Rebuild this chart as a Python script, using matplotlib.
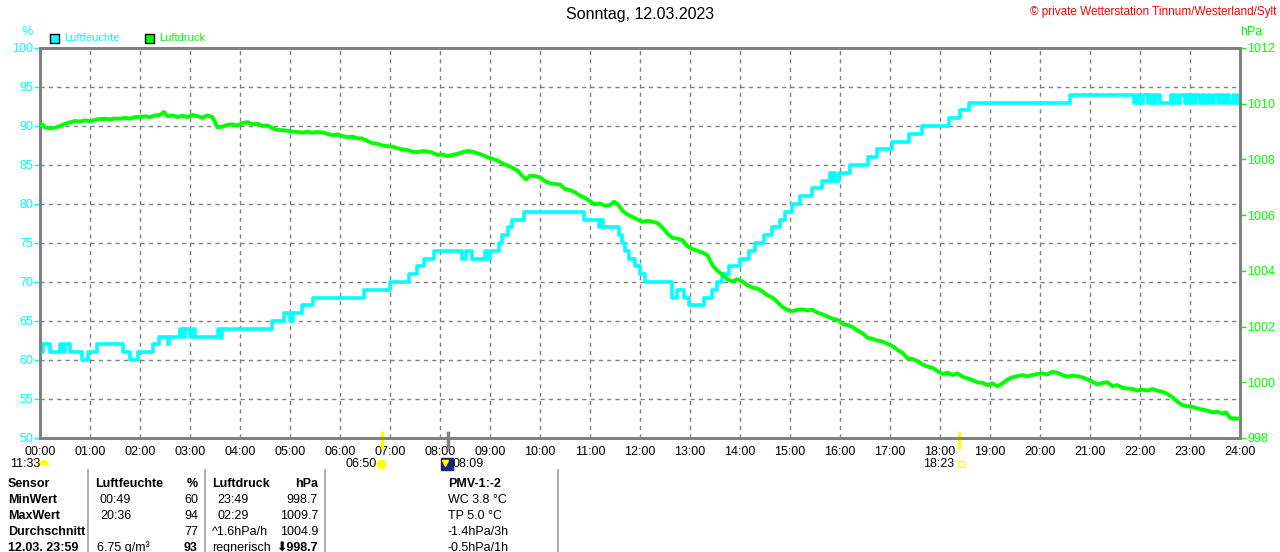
import matplotlib
matplotlib.use("Agg")
import matplotlib.pyplot as plt
import matplotlib.transforms as mtransforms
from matplotlib.patches import Rectangle

plt.rcParams['font.family'] = ['Liberation Sans', 'DejaVu Sans']

# === Daten: Luftfeuchte (Stufen, Stunde -> %) ===
hum_t = [0.00, 0.05, 0.19, 0.39, 0.45, 0.50, 0.59, 0.83, 0.96, 1.13, 1.66, 1.80, 1.96, 2.26, 2.37,
         2.55, 2.58, 2.79, 2.85, 2.90, 3.00, 3.05, 3.10, 3.55, 3.60, 3.64, 4.64, 4.87, 5.00, 5.05,
         5.23, 5.45, 6.47, 7.00, 7.37, 7.53, 7.68, 7.88, 8.43, 8.53, 8.64, 8.90, 8.95, 9.00, 9.17,
         9.23, 9.35, 9.43, 9.67, 10.87, 11.17, 11.20, 11.25, 11.57, 11.63, 11.70, 11.78, 11.90, 12.00,
         12.10, 12.63, 12.73, 12.87, 12.97, 13.27, 13.43, 13.53, 13.63, 13.77, 14.00, 14.17, 14.30,
         14.47, 14.63, 14.80, 14.90, 15.03, 15.20, 15.43, 15.63, 15.80, 15.83, 15.88, 15.90, 15.97,
         16.20, 16.55, 16.73, 17.03, 17.37, 17.63, 18.17, 18.39, 18.57, 20.60, 21.87, 21.93, 21.97,
         22.05, 22.15, 22.18, 22.22, 22.25, 22.28, 22.32, 22.40, 22.62, 22.66, 22.70, 22.74, 22.80,
         22.90, 22.94, 22.98, 23.02, 23.08, 23.12, 23.20, 23.25, 23.30, 23.35, 23.42, 23.48, 23.55,
         23.60, 23.65, 23.72, 23.78, 23.85, 23.90, 23.95, 24.00]
hum_v = [61, 62, 61, 62, 61, 62, 61, 60, 61, 62, 61, 60, 61, 62, 63,
         62, 63, 64, 63, 64, 63, 64, 63, 64, 63, 64, 65, 66, 65, 66,
         67, 68, 69, 70, 71, 72, 73, 74, 73, 74, 73, 74, 73, 74, 75,
         76, 77, 78, 79, 78, 77, 78, 77, 76, 75, 74, 73, 72, 71,
         70, 68, 69, 68, 67, 68, 69, 70, 71, 72, 73, 74, 75,
         76, 77, 78, 79, 80, 81, 82, 83, 84, 83, 84, 83, 84,
         85, 86, 87, 88, 89, 90, 91, 92, 93, 94, 93, 94, 93,
         94, 93, 94, 93, 94, 93, 94, 93, 94, 93, 94, 93, 94,
         93, 94, 93, 94, 93, 94, 93, 94, 93, 94, 93, 94, 93,
         94, 93, 94, 93, 94, 93, 94, 93]

# === Daten: Luftdruck (Stunde -> hPa) ===
prs_t = [0.00, 0.05, 0.10, 0.20, 0.30, 0.40, 0.50, 0.60, 0.70, 0.80, 0.90, 1.00, 1.10, 1.20, 1.30,
         1.40, 1.50, 1.60, 1.70, 1.80, 1.90, 2.00, 2.10, 2.20, 2.30, 2.40, 2.48, 2.55, 2.65, 2.75,
         2.85, 2.95, 3.05, 3.15, 3.25, 3.35, 3.45, 3.55, 3.65, 3.75, 3.85, 3.95, 4.05, 4.15, 4.25,
         4.35, 4.45, 4.55, 4.65, 4.75, 4.85, 4.95, 5.05, 5.15, 5.25, 5.35, 5.45, 5.55, 5.65, 5.75,
         5.85, 5.95, 6.05, 6.15, 6.25, 6.35, 6.45, 6.55, 6.65, 6.75, 6.85, 6.95, 7.05, 7.15, 7.25,
         7.35, 7.45, 7.55, 7.65, 7.75, 7.85, 7.95, 8.05, 8.15, 8.25, 8.35, 8.45, 8.55, 8.65, 8.75,
         8.85, 8.95, 9.05, 9.15, 9.25, 9.35, 9.45, 9.55, 9.65, 9.72, 9.80, 9.90, 10.00, 10.10, 10.20,
         10.30, 10.40, 10.50, 10.60, 10.70, 10.80, 10.90, 11.00, 11.10, 11.20, 11.30, 11.40, 11.48,
         11.55, 11.65, 11.75, 11.85, 11.95, 12.05, 12.15, 12.25, 12.35, 12.45, 12.55, 12.65, 12.75,
         12.85, 12.95, 13.05, 13.15, 13.25, 13.35, 13.45, 13.55, 13.65, 13.75, 13.85, 13.95, 14.05,
         14.15, 14.25, 14.35, 14.45, 14.55, 14.65, 14.75, 14.85, 14.95, 15.05, 15.15, 15.25, 15.35,
         15.45, 15.55, 15.65, 15.75, 15.85, 15.95, 16.05, 16.15, 16.25, 16.35, 16.45, 16.55, 16.65,
         16.75, 16.85, 16.95, 17.05, 17.15, 17.25, 17.35, 17.45, 17.55, 17.65, 17.75, 17.85, 17.95,
         18.05, 18.15, 18.25, 18.35, 18.45, 18.55, 18.65, 18.75, 18.85, 18.95, 19.05, 19.15, 19.25,
         19.35, 19.45, 19.55, 19.65, 19.75, 19.85, 19.95, 20.05, 20.15, 20.25, 20.35, 20.45, 20.55,
         20.65, 20.75, 20.85, 20.95, 21.05, 21.15, 21.25, 21.35, 21.45, 21.55, 21.65, 21.75, 21.85,
         21.95, 22.05, 22.15, 22.25, 22.35, 22.45, 22.55, 22.65, 22.75, 22.85, 22.95, 23.05, 23.15,
         23.25, 23.35, 23.45, 23.55, 23.65, 23.72, 23.80, 23.90, 24.00]
prs_v = [1009.22, 1009.26, 1009.15, 1009.12, 1009.14, 1009.20, 1009.28, 1009.33, 1009.38, 1009.36,
         1009.40, 1009.37, 1009.42, 1009.45, 1009.46, 1009.44, 1009.47, 1009.46, 1009.49, 1009.46,
         1009.52, 1009.53, 1009.55, 1009.52, 1009.58, 1009.60, 1009.70, 1009.55, 1009.58, 1009.52,
         1009.57, 1009.52, 1009.60, 1009.55, 1009.50, 1009.58, 1009.52, 1009.15, 1009.18, 1009.24,
         1009.26, 1009.22, 1009.30, 1009.34, 1009.26, 1009.28, 1009.20, 1009.22, 1009.12, 1009.06,
         1009.05, 1009.03, 1009.00, 1008.98, 1008.96, 1008.99, 1008.96, 1008.98, 1008.97, 1008.92,
         1008.87, 1008.90, 1008.84, 1008.80, 1008.82, 1008.76, 1008.75, 1008.66, 1008.58, 1008.56,
         1008.50, 1008.48, 1008.46, 1008.40, 1008.36, 1008.34, 1008.28, 1008.26, 1008.30, 1008.28,
         1008.24, 1008.16, 1008.18, 1008.12, 1008.16, 1008.20, 1008.26, 1008.30, 1008.28, 1008.22,
         1008.16, 1008.08, 1008.02, 1007.96, 1007.86, 1007.78, 1007.70, 1007.60, 1007.40, 1007.28,
         1007.42, 1007.40, 1007.36, 1007.22, 1007.14, 1007.12, 1007.10, 1006.94, 1006.90, 1006.82,
         1006.70, 1006.62, 1006.50, 1006.38, 1006.42, 1006.34, 1006.36, 1006.48, 1006.40, 1006.16,
         1006.02, 1005.94, 1005.84, 1005.76, 1005.80, 1005.76, 1005.72, 1005.55, 1005.34, 1005.18,
         1005.16, 1005.10, 1004.88, 1004.78, 1004.72, 1004.66, 1004.56, 1004.20, 1004.00, 1003.86,
         1003.70, 1003.62, 1003.70, 1003.62, 1003.48, 1003.40, 1003.36, 1003.26, 1003.12, 1003.04,
         1002.88, 1002.70, 1002.60, 1002.56, 1002.60, 1002.62, 1002.58, 1002.60, 1002.50, 1002.44,
         1002.36, 1002.28, 1002.24, 1002.10, 1002.06, 1001.98, 1001.86, 1001.76, 1001.60, 1001.56,
         1001.50, 1001.46, 1001.38, 1001.30, 1001.16, 1001.06, 1000.86, 1000.84, 1000.76, 1000.64,
         1000.56, 1000.52, 1000.40, 1000.30, 1000.34, 1000.26, 1000.32, 1000.20, 1000.14, 1000.08,
         1000.00, 999.98, 999.90, 999.96, 999.86, 999.96, 1000.10, 1000.18, 1000.22, 1000.26,
         1000.22, 1000.26, 1000.30, 1000.32, 1000.28, 1000.38, 1000.34, 1000.26, 1000.20, 1000.24,
         1000.22, 1000.18, 1000.10, 1000.02, 999.92, 999.98, 1000.00, 999.86, 999.90, 999.80,
         999.78, 999.76, 999.70, 999.74, 999.70, 999.76, 999.70, 999.66, 999.58, 999.46,
         999.30, 999.18, 999.14, 999.12, 999.06, 999.02, 998.98, 998.92, 998.94, 998.88,
         998.92, 998.72, 998.70, 998.70]

hour_ticks = list(range(0, 25))
hour_labels = ["%02d:00" % h for h in hour_ticks]
hum_ticks = list(range(50, 101, 5))
prs_ticks = list(range(998, 1013, 2))

# Sonnen-/Mond-Zeiten (Stunde, Text)
sun_events = [(6 + 50 / 60, "06:50"), (18 + 23 / 60, "18:23")]
moon_events = [(8 + 9 / 60, "08:09")]

# Tabelle unten
row_names = ["Sensor", "MinWert", "MaxWert", "Durchschnitt", "12.03. 23:59"]
hum_col_time = ["00:49", "20:36", "", "6.75 g/m³"]
hum_col_val = ["60", "94", "77", "93"]
prs_col_time = ["23:49", "02:29", "^1.6hPa/h", "regnerisch"]
prs_col_val = ["998.7", "1009.7", "1004.9", "⬇998.7"]
pmv_col = ["WC 3.8 °C", "TP 5.0 °C", "-1.4hPa/3h", "-0.5hPa/1h"]

CYAN = "#00ffff"
GREEN = "#00ff00"
GRAY = "#808080"

W, H = 1280, 552
fig = plt.figure(figsize=(W / 100, H / 100), dpi=100)
ax = fig.add_axes([40 / W, 1 - 438 / H, 1200 / W, 390 / H])
ax2 = ax.twinx()

ax.plot(hum_t, hum_v, color=CYAN, lw=2.6, drawstyle="steps-post", zorder=3)
ax2.plot(prs_t, prs_v, color=GREEN, lw=2.8, zorder=3)

ax.set_xlim(0, 24)
ax.set_ylim(50, 100)
ax2.set_ylim(998, 1012)
ax.set_xticks(hour_ticks)
ax.set_xticklabels(hour_labels)
ax.set_yticks(hum_ticks)
ax2.set_yticks(prs_ticks)

ax.grid(True, color=GRAY, ls=(0, (3, 3)), lw=1)
ax.set_axisbelow(True)
for a in (ax, ax2):
    for s in a.spines.values():
        s.set_color(GRAY)
        s.set_linewidth(2)
ax.tick_params(axis="y", colors=CYAN, labelsize=9, length=4, width=1, pad=1)
ax.tick_params(axis="x", colors="black", labelsize=9, length=0, pad=6)
ax2.tick_params(axis="y", colors=GREEN, labelsize=9, length=4, width=1, pad=1)
for t in ax.get_yticklines() + ax2.get_yticklines():
    t.set_color(GRAY)

# Titel und Beschriftungen
fig.text(640 / W, 1 - 15 / H, "Sonntag, 12.03.2023", ha="center", va="center", fontsize=11.5)
fig.text(1276 / W, 1 - 12 / H, "© private Wetterstation Tinnum/Westerland/Sylt",
         ha="right", va="center", fontsize=8.5, color="red")
fig.text(27 / W, 1 - 32 / H, "%", ha="center", va="center", fontsize=9, color=CYAN)
fig.text(1251 / W, 1 - 32 / H, "hPa", ha="center", va="center", fontsize=9, color=GREEN)

# Legende
fig.patches.append(Rectangle((50 / W, 1 - 43 / H), 9 / W, 9 / H, facecolor=CYAN,
                             edgecolor="black", lw=1, transform=fig.transFigure))
fig.text(64 / W, 1 - 38 / H, "Luftfeuchte", ha="left", va="center", fontsize=8, color=CYAN)
fig.patches.append(Rectangle((145 / W, 1 - 43 / H), 9 / W, 9 / H, facecolor=GREEN,
                             edgecolor="black", lw=1, transform=fig.transFigure))
fig.text(159 / W, 1 - 38 / H, "Luftdruck", ha="left", va="center", fontsize=8, color=GREEN)

# Sonnen-/Mondmarken an der Zeitachse
trans = mtransforms.blended_transform_factory(ax.transData, fig.transFigure)
for h, lab in sun_events:
    ax.plot([h, h], [1 - 433 / H, 1 - 447 / H], color="yellow", lw=2.5,
            transform=trans, clip_on=False, zorder=5)
ax.plot([sun_events[0][0] - 0.02], [1 - 464 / H], marker="o", ms=6, color="yellow",
        transform=trans, clip_on=False)
ax.text(sun_events[0][0] - 0.1, 1 - 464 / H, sun_events[0][1], transform=trans,
        ha="right", va="center", fontsize=9)
ax.plot([sun_events[1][0] + 0.03], [1 - 464 / H], marker="s", ms=5, mfc="white",
        mec="yellow", mew=1, transform=trans, clip_on=False)
ax.text(sun_events[1][0] - 0.1, 1 - 464 / H, sun_events[1][1], transform=trans,
        ha="right", va="center", fontsize=9)
for h, lab in moon_events:
    ax.plot([h, h], [1 - 433 / H, 1 - 447 / H], color=GRAY, lw=2.5,
            transform=trans, clip_on=False, zorder=5)
    ax.plot([h - 0.02], [1 - 464 / H], marker="s", ms=8, color="#1a237e",
            transform=trans, clip_on=False)
    ax.plot([h - 0.06], [1 - 463 / H], marker="v", ms=4, color="yellow",
            transform=trans, clip_on=False)
    ax.text(h + 0.1, 1 - 464 / H, lab, transform=trans, ha="left", va="center", fontsize=9)
fig.text(10 / W, 1 - 464 / H, "11:33", ha="left", va="center", fontsize=9)
ax.plot([0.06], [1 - 465 / H], marker="o", ms=8, fillstyle="top", mfc="yellow",
        mfcalt="none", mec="none", transform=trans, clip_on=False)

# Tabelle
row_y = [484, 500, 516, 532, 548]
for x in (88, 205, 325, 558):
    fig.add_artist(plt.Line2D([x / W, x / W], [1 - 470 / H, 0], color="#a0a0a0", lw=1.2))
for i, lab in enumerate(row_names):
    fig.text(8 / W, 1 - row_y[i] / H, lab, ha="left", va="center", fontsize=9, weight="bold")
fig.text(95 / W, 1 - row_y[0] / H, "Luftfeuchte", ha="left", va="center", fontsize=9, weight="bold")
fig.text(198 / W, 1 - row_y[0] / H, "%", ha="right", va="center", fontsize=9, weight="bold")
fig.text(212 / W, 1 - row_y[0] / H, "Luftdruck", ha="left", va="center", fontsize=9, weight="bold")
fig.text(318 / W, 1 - row_y[0] / H, "hPa", ha="right", va="center", fontsize=9, weight="bold")
fig.text(448 / W, 1 - row_y[0] / H, "PMV-1:-2", ha="left", va="center", fontsize=9, weight="bold")
for i in range(4):
    y = 1 - row_y[i + 1] / H
    last = (i == 3)
    fig.text((97 if last else 100) / W, y, hum_col_time[i], ha="left", va="center", fontsize=9)
    fig.text(198 / W, y, hum_col_val[i], ha="right", va="center", fontsize=9,
             weight="bold" if last else "normal")
    fig.text((212 if i >= 2 else 217) / W, y, prs_col_time[i], ha="left", va="center", fontsize=9)
    fig.text(318 / W, y, prs_col_val[i], ha="right", va="center", fontsize=9,
             weight="bold" if last else "normal",
             family=["Liberation Sans", "DejaVu Sans"])
    fig.text(448 / W, y, pmv_col[i], ha="left", va="center", fontsize=9)

fig.savefig("out.png", dpi=100)
